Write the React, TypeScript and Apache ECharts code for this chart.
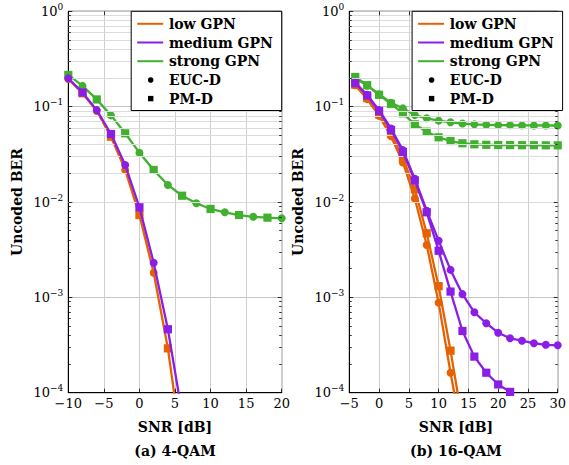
import React, { useEffect, useRef } from 'react';
import * as echarts from 'echarts';

// ---------- data ----------
const SNR_4QAM = [-10, -8, -6, -4, -2, 0, 2, 4, 6, 8, 10, 12, 14, 16, 18, 20];
const LOW_4QAM = [0.195, 0.138, 0.09, 0.0484, 0.0217, 0.0073, 0.00181, 0.000292, 0.000025];
const MED_4QAM = [0.198, 0.141, 0.092, 0.0517, 0.0244, 0.0088, 0.00231, 0.000463, 0.00006];
const STRONG_4QAM = [0.215, 0.165, 0.119, 0.081, 0.0525, 0.0329, 0.0217, 0.0151, 0.01164, 0.0097, 0.00845, 0.0078, 0.0073, 0.007, 0.00685, 0.00675];

const SNR_16QAM = [-4, -2, 0, 2, 4, 6, 8, 10, 12, 14, 16, 18, 20, 22, 24, 26, 28, 30];
const LOW_16QAM_EUC = [0.168, 0.12, 0.08, 0.049, 0.026, 0.0109, 0.00354, 0.00088, 0.000162, 0.000034];
const LOW_16QAM_PM = [0.17, 0.123, 0.083, 0.052, 0.029, 0.0136, 0.0047, 0.00131, 0.000276, 0.00005];
const MED_16QAM_EUC = [0.178, 0.133, 0.092, 0.059, 0.035, 0.0175, 0.0081, 0.00393, 0.00194, 0.00108, 0.000697, 0.000535, 0.000426, 0.000372, 0.000351, 0.00033, 0.000318, 0.000314];
const MED_16QAM_PM = [0.176, 0.131, 0.09, 0.057, 0.0335, 0.0168, 0.0078, 0.00308, 0.00115, 0.000444, 0.000239, 0.000162, 0.000122, 0.000102];
const STRONG_16QAM_EUC = [0.2, 0.166, 0.135, 0.11, 0.096, 0.0817, 0.0755, 0.0713, 0.0685, 0.0665, 0.0652, 0.0645, 0.064, 0.0638, 0.0636, 0.0635, 0.0634, 0.0634];
const STRONG_16QAM_PM = [0.205, 0.168, 0.133, 0.107, 0.0851, 0.0653, 0.0546, 0.0477, 0.0436, 0.0413, 0.0403, 0.0398, 0.0396, 0.0395, 0.0394, 0.0394, 0.0393, 0.0393];

const LEGEND_LINES = ['low GPN', 'medium GPN', 'strong GPN'];
const LEGEND_MARKS = ['EUC-D', 'PM-D'];
const X_RANGES = [[-10, 20], [-5, 30]];
const Y_RANGE = [1e-4, 1];
const CAPTIONS = ['(a) 4-QAM', '(b) 16-QAM'];
const X_NAME = 'SNR [dB]';
const Y_NAME = 'Uncoded BER';

// ---------- layout ----------
const W = 569, H = 465;
const TOP = 11.3, PH = 381.4;
const GRIDS = [{ left: 68.3, width: 213.4 }, { left: 349.3, width: 213.3 }];
const COLORS = ['#e66100', '#8a1ee6', '#41b02f'];
const TICK_FONT = 'DejaVu Serif';
const BOLD_FAMILY = 'DejaVu Serif';

const boldText = (text: string, x: number, y: number, align: string) => ({
  text, x, y, fontFamily: BOLD_FAMILY, fontWeight: 'bold', fontSize: 14,
  textAlign: align, textVerticalAlign: 'middle', fill: '#000',
});

const minorVals: number[] = [];
for (let e = -4; e < 0; e++) for (let m = 2; m <= 9; m++) minorVals.push(m * Math.pow(10, e));
const majorVals = [1e-4, 1e-3, 1e-2, 1e-1, 1];

function lineSeries(g: number, xs: number[], ys: number[], color: string, sym: (i: number) => string, z: number) {
  return {
    type: 'line',
    xAxisIndex: g,
    yAxisIndex: g,
    clip: true,
    z,
    showAllSymbol: true,
    data: ys.map((y, i) => {
      const s = sym(i);
      return { value: [xs[i], y], symbol: s, symbolSize: s === 'circle' ? 8 : 8.2 };
    }),
    lineStyle: { color, width: 2.3 },
    itemStyle: { color, borderWidth: 0 },
    emphasis: { disabled: true },
  };
}

function gridDeco(g: number) {
  const [x0, x1] = X_RANGES[g];
  const pxPerX = GRIDS[g].width / (x1 - x0);
  const pxPerDec = PH / 4;
  const seg = (x: number, y: number, x2: number, y2: number) => [{ coord: [x, y] }, { coord: [x2, y2] }];
  const minorLen = 2.5 / pxPerX, majorLen = 4 / pxPerX;
  const ticks: any[] = [];
  minorVals.forEach((v) => {
    ticks.push(seg(x0, v, x0 + minorLen, v));
    ticks.push(seg(x1, v, x1 - minorLen, v));
  });
  majorVals.forEach((v) => {
    ticks.push(seg(x0, v, x0 + majorLen, v));
    ticks.push(seg(x1, v, x1 - majorLen, v));
  });
  const yTopTick = Math.pow(10, -4 / pxPerDec);
  const yBotTick = Math.pow(10, -4 + 4 / pxPerDec);
  for (let x = x0; x <= x1; x += 5) {
    ticks.push(seg(x, 1, x, yTopTick));
    ticks.push(seg(x, 1e-4, x, yBotTick));
  }
  return [
    {
      type: 'line', xAxisIndex: g, yAxisIndex: g, data: [], z: 1, silent: true,
      markLine: {
        silent: true, symbol: ['none', 'none'], label: { show: false },
        lineStyle: { color: '#dcdcdc', width: 1, type: 'solid' },
        emphasis: { disabled: true },
        data: minorVals.map((v) => ({ yAxis: v })),
      },
    },
    {
      type: 'line', xAxisIndex: g, yAxisIndex: g, data: [], z: 6, silent: true,
      markLine: {
        silent: true, symbol: ['none', 'none'], label: { show: false },
        lineStyle: { color: '#000', width: 0.8, type: 'solid' },
        emphasis: { disabled: true },
        data: ticks,
      },
    },
  ];
}

function legendEls(plotRight: number) {
  const bw = 150.5, bh = 99.2;
  const bx = plotRight - bw;
  const rows = [12.5, 31.2, 49.9, 68.7, 87.3].map((d) => TOP + d);
  const els: any[] = [
    { type: 'rect', z: 100, shape: { x: bx, y: TOP, width: bw, height: bh }, style: { fill: '#fff', stroke: '#000', lineWidth: 1 } },
  ];
  LEGEND_LINES.forEach((t, i) => {
    els.push({ type: 'line', z: 101, shape: { x1: bx + 6, y1: rows[i], x2: bx + 32, y2: rows[i] }, style: { stroke: COLORS[i], lineWidth: 2 } });
  });
  els.push({ type: 'circle', z: 101, shape: { cx: bx + 19.5, cy: rows[3], r: 2.8 }, style: { fill: '#000' } });
  els.push({ type: 'rect', z: 101, shape: { x: bx + 16.8, y: rows[4] - 2.7, width: 5.4, height: 5.4 }, style: { fill: '#000' } });
  [...LEGEND_LINES, ...LEGEND_MARKS].forEach((t, i) => {
    els.push({ type: 'text', z: 101, style: boldText(t, bx + 37.7, rows[i], 'left') });
  });
  return els;
}

function yLabel(v: number) {
  const e = Math.round(Math.log10(v));
  return `{b|10}{s|${e === 0 ? '0' : '\u2212' + -e}}`;
}

export default function App() {
  const ref = useRef<HTMLDivElement>(null);
  useEffect(() => {
    if (!ref.current) return;
    const chart = echarts.init(ref.current, undefined, { renderer: 'svg' });

    const grid = GRIDS.map((g) => ({
      left: g.left, top: TOP, width: g.width, height: PH, show: true,
      borderColor: '#000', borderWidth: 1, backgroundColor: 'transparent',
    }));
    const xAxis = X_RANGES.map(([a, b], g) => ({
      type: 'value', gridIndex: g, min: a, max: b, interval: 5,
      axisLine: { show: true, onZero: false, lineStyle: { color: '#000', width: 1 } },
      axisTick: { show: false },
      splitLine: { show: true, lineStyle: { color: '#cfcfcf', width: 1 } },
      axisLabel: {
        margin: 4, color: '#000', fontFamily: TICK_FONT, fontSize: 13,
        formatter: (v: number) => String(v).replace('-', '\u2212'),
      },
    }));
    const yAxis = [0, 1].map((g) => ({
      type: 'log', logBase: 10, gridIndex: g, min: Y_RANGE[0], max: Y_RANGE[1], splitNumber: 4,
      axisLine: { show: true, onZero: false, lineStyle: { color: '#000', width: 1 } },
      axisTick: { show: false },
      splitLine: { show: true, lineStyle: { color: '#c4c4c4', width: 1 } },
      axisLabel: {
        margin: 5, color: '#000', formatter: yLabel,
        rich: {
          b: { fontFamily: TICK_FONT, fontSize: 13, color: '#000' },
          s: { fontFamily: TICK_FONT, fontSize: 9, color: '#000', verticalAlign: 'top', padding: [0, 0, 9, 0] },
        },
      },
    }));

    const circleEven = (i: number) => (i % 2 === 0 ? 'circle' : 'rect');
    const rectEven = (i: number) => (i % 2 === 0 ? 'rect' : 'circle');
    const allCircle = () => 'circle';
    const allRect = () => 'rect';

    const series: any[] = [
      ...gridDeco(0),
      ...gridDeco(1),
      lineSeries(0, SNR_4QAM, STRONG_4QAM, COLORS[2], rectEven, 3),
      lineSeries(0, SNR_4QAM, LOW_4QAM, COLORS[0], circleEven, 4),
      lineSeries(0, SNR_4QAM, MED_4QAM, COLORS[1], circleEven, 5),
      lineSeries(1, SNR_16QAM, STRONG_16QAM_EUC, COLORS[2], allCircle, 3),
      lineSeries(1, SNR_16QAM, STRONG_16QAM_PM, COLORS[2], allRect, 3),
      lineSeries(1, SNR_16QAM, LOW_16QAM_EUC, COLORS[0], allCircle, 4),
      lineSeries(1, SNR_16QAM, LOW_16QAM_PM, COLORS[0], allRect, 4),
      lineSeries(1, SNR_16QAM, MED_16QAM_EUC, COLORS[1], allCircle, 5),
      lineSeries(1, SNR_16QAM, MED_16QAM_PM, COLORS[1], allRect, 5),
    ];

    const graphic: any[] = [];
    GRIDS.forEach((g, i) => {
      const cx = g.left + g.width / 2;
      graphic.push(...legendEls(g.left + g.width));
      graphic.push({ type: 'text', z: 50, style: boldText(X_NAME, cx, 426.5, 'center') });
      graphic.push({ type: 'text', z: 50, style: boldText(CAPTIONS[i], cx, 450.5, 'center') });
      graphic.push({
        type: 'text', z: 50, x: i === 0 ? 17 : 297.5, y: TOP + PH / 2, rotation: Math.PI / 2,
        style: boldText(Y_NAME, 0, 0, 'center'),
      });
    });

    chart.setOption({
      animation: false,
      backgroundColor: '#fff',
      grid, xAxis, yAxis, series, graphic,
    });
    return () => chart.dispose();
  }, []);
  return <div ref={ref} style={{ position: 'absolute', left: 0, top: 0, width: W, height: H }} />;
}
